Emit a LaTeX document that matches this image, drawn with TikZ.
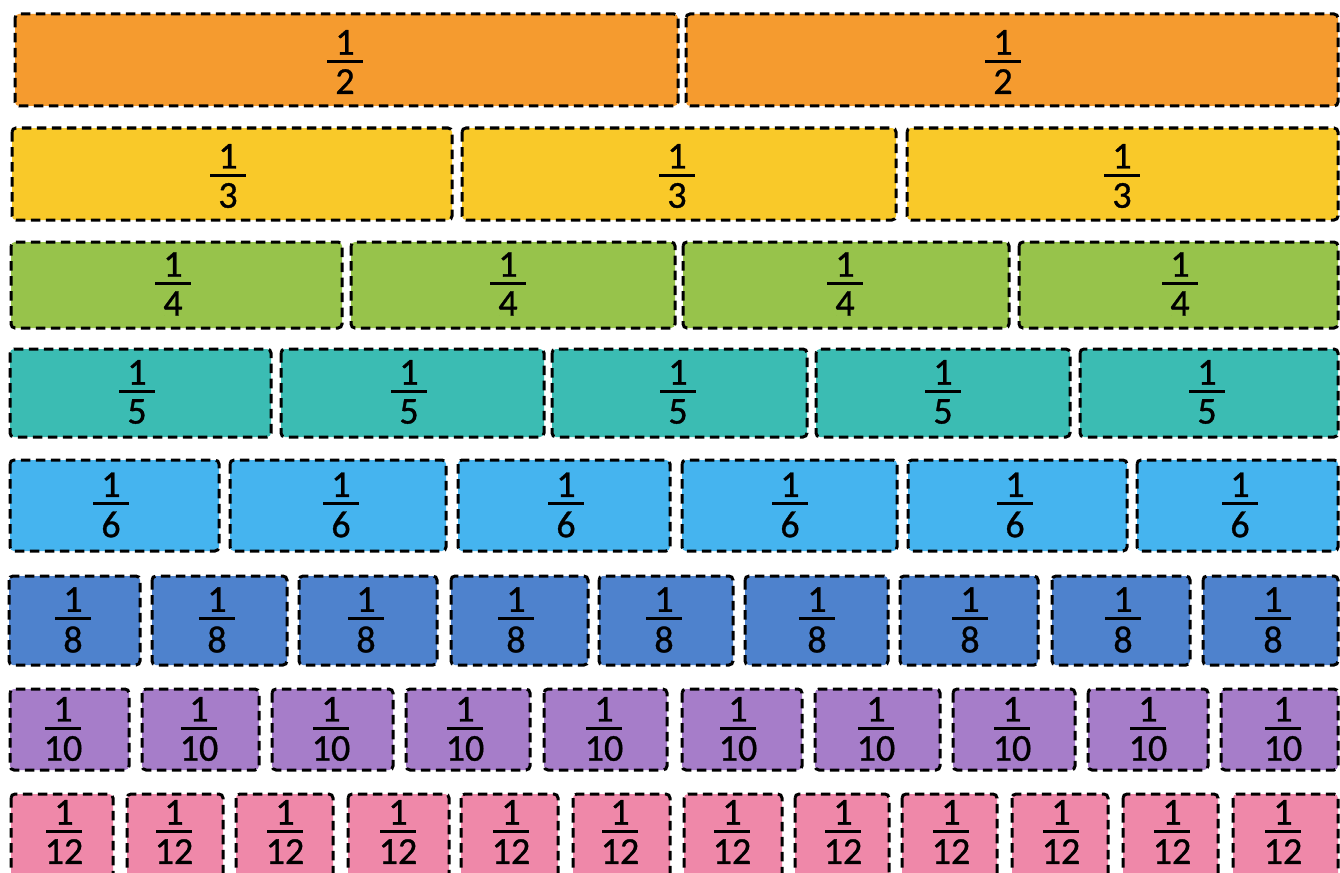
\documentclass[tikz,border=0pt]{standalone}
\usepackage{fontspec}
\setmainfont{Carlito}[FakeBold=0.9]
\definecolor{cOrange}{HTML}{F59B2F}
\definecolor{cYellow}{HTML}{F9C929}
\definecolor{cGreen}{HTML}{97C34B}
\definecolor{cTeal}{HTML}{3BBCB3}
\definecolor{cSky}{HTML}{45B4EF}
\definecolor{cBlue}{HTML}{4E82CD}
\definecolor{cPurple}{HTML}{A67DC9}
\definecolor{cPink}{HTML}{EF88A9}
\newcommand{\fr}[1]{\vbox{\hbox to 36pt{\hss 1\hss}\kern5.5pt\hrule height 2.6pt\kern6.5pt\hbox to 36pt{\hss #1\hss}}}
\begin{document}
\begin{tikzpicture}[x=1pt,y=-1pt,
  piece/.style={draw=black, line width=3pt, dash pattern=on 9.5pt off 5.5pt, rounded corners=4pt},
  lbl/.style={inner sep=0pt, text=black, font=\fontsize{38}{44}\selectfont}]
\useasboundingbox (0,0) rectangle (1340,872);
\fill[white] (0,0) rectangle (1340,872);
\clip (0,0) rectangle (1340,872);
% halves
\foreach \a/\b/\l [count=\i] in {15/678/345, 686/1338/1003} {
  \path[piece, fill=cOrange] (\a,14) rectangle (\b,106);
  \node[lbl] (half\i) at (\l,62) {\fr{2}};
}
% thirds
\foreach \a/\b/\l [count=\i] in {12/452/228, 462/896/677, 907/1338/1122} {
  \path[piece, fill=cYellow] (\a,128) rectangle (\b,220);
  \node[lbl] (third\i) at (\l,176) {\fr{3}};
}
% quarters
\foreach \a/\b/\l [count=\i] in {11/342/173, 351/675/508, 683/1009/845, 1019/1338/1180} {
  \path[piece, fill=cGreen] (\a,242) rectangle (\b,328);
  \node[lbl] (quarter\i) at (\l,284) {\fr{4}};
}
% fifths
\foreach \a/\b/\l [count=\i] in {10/271/137, 281/544/409, 552/807/678, 816/1070/943, 1080/1338/1207} {
  \path[piece, fill=cTeal] (\a,349) rectangle (\b,437);
  \node[lbl] (fifth\i) at (\l,392) {\fr{5}};
}
% sixths
\foreach \a/\b/\l [count=\i] in {10/219/111, 230/446/341, 458/670/566, 682/897/790, 908/1127/1015, 1137/1338/1240} {
  \path[piece, fill=cSky] (\a,460) rectangle (\b,551);
  \node[lbl] (sixth\i) at (\l,505) {\fr{6}};
}
% eighths
\foreach \a/\b/\l [count=\i] in {9/140/73, 152/287/217, 299/437/366, 451/588/516, 599/733/664, 745/888/817, 900/1038/970, 1052/1190/1123, 1203/1338/1273} {
  \path[piece, fill=cBlue] (\a,576) rectangle (\b,665);
  \node[lbl] (eighth\i) at (\l,620) {\fr{8}};
}
% tenths
\foreach \a/\b/\l [count=\i] in {10/129/63, 142/259/199, 272/393/331, 406/530/465, 544/667/604, 682/802/738, 815/940/876, 953/1075/1012, 1088/1208/1148, 1221/1338/1283} {
  \path[piece, fill=cPurple] (\a,689) rectangle (\b,770);
  \node[lbl] (tenth\i) at (\l,729) {\fr{10}};
}
% twelfths
\foreach \a/\b/\l [count=\i] in {11/113/64, 127/223/174, 236/333/285, 348/449/398, 461/558/511, 573/670/620, 684/782/732, 795/889/843, 902/997/951, 1012/1108/1061, 1123/1218/1172, 1233/1338/1283} {
  \path[piece, fill=cPink] (\a,794) rectangle (\b,880);
  \node[lbl] (twelfth\i) at (\l,832) {\fr{12}};
}
\end{tikzpicture}
\end{document}
